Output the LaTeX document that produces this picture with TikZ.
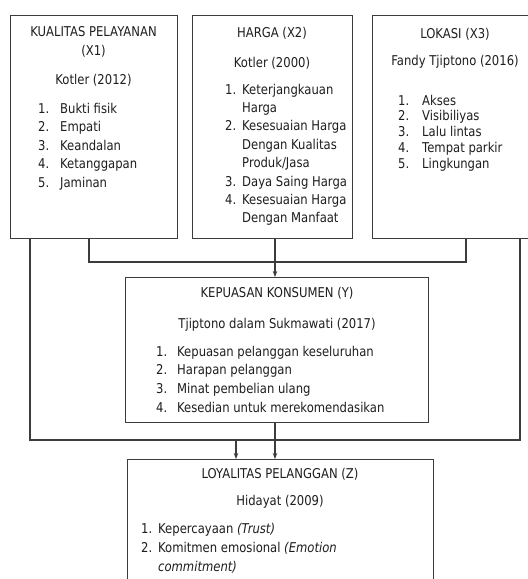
\documentclass[tikz,border=0pt]{standalone}
\usepackage{fontspec}
\setmainfont{DejaVu Sans}[FakeStretch=0.86]
\usetikzlibrary{arrows.meta}
\definecolor{ln}{HTML}{3C3C3C}
\definecolor{tx}{HTML}{1E1E1E}
\begin{document}
\begin{tikzpicture}[x=1pt,y=-1pt,
  box/.style={draw=ln, line width=1.2pt, anchor=north west, inner sep=0pt},
  txt/.style={inner sep=0pt, text=tx, anchor=base, font=\fontsize{13.5}{18.4}\selectfont},
  lst/.style={txt, anchor=base west},
  conn/.style={draw=ln, line width=1.2pt},
  arr/.style={conn, -{Stealth[length=6pt,width=4.5pt]}}]
\useasboundingbox (0,0) rectangle (528,579);
\clip (0,0) rectangle (528,579);
\fill[white] (0,0) rectangle (528,579);
% boxes
\node[box, minimum width=167pt, minimum height=223pt] (x1) at (10,15) {};
\node[box, minimum width=160pt, minimum height=223pt] (x2) at (192,15) {};
\node[box, minimum width=167pt, minimum height=223pt] (x3) at (372,15) {};
\node[box, minimum width=303pt, minimum height=145pt] (y) at (125,277) {};
\node[box, minimum width=306pt, minimum height=160pt] (z) at (127,459) {};
% X1 text
\node[txt] (x1a) at (93.5,36) {KUALITAS PELAYANAN};
\node[txt] (x1b) at (93.5,55) {(X1)};
\node[txt] (x1c) at (93.5,84) {Kotler (2012)};
\node[lst] (x1l) at (38,113) {\fontsize{13.5}{18.5}\selectfont\begin{tabular}[t]{@{}l@{}l@{}}
\makebox[22pt][l]{1.} & Bukti fisik\\
\makebox[22pt][l]{2.} & Empati\\
\makebox[22pt][l]{3.} & Keandalan\\
\makebox[22pt][l]{4.} & Ketanggapan\\
\makebox[22pt][l]{5.} & Jaminan
\end{tabular}};
% X2 text
\node[txt] (x2a) at (272,37) {HARGA (X2)};
\node[txt] (x2c) at (272,67) {Kotler (2000)};
\node[lst] (x2l) at (225,94) {\begin{tabular}[t]{@{}l@{}l@{}}
\makebox[17pt][l]{1.} & Keterjangkauan\\
 & Harga\\
\makebox[17pt][l]{2.} & Kesesuaian Harga\\
 & Dengan Kualitas\\
 & Produk/Jasa\\
\makebox[17pt][l]{3.} & Daya Saing Harga\\
\makebox[17pt][l]{4.} & Kesesuaian Harga\\
 & Dengan Manfaat
\end{tabular}};
% X3 text
\node[txt] (x3a) at (455,38) {LOKASI (X3)};
\node[txt] (x3c) at (455,65) {Fandy Tjiptono (2016)};
\node[lst] (x3l) at (398,105) {\fontsize{13.5}{15.8}\selectfont\begin{tabular}[t]{@{}l@{}l@{}}
\makebox[24pt][l]{1.} & Akses\\
\makebox[24pt][l]{2.} & Visibiliyas\\
\makebox[24pt][l]{3.} & Lalu lintas\\
\makebox[24pt][l]{4.} & Tempat parkir\\
\makebox[24pt][l]{5.} & Lingkungan
\end{tabular}};
% Y text
\node[txt] (ya) at (277,297) {KEPUASAN KONSUMEN (Y)};
\node[txt] (yc) at (277,328) {Tjiptono dalam Sukmawati (2017)};
\node[lst] (yl) at (156,356) {\fontsize{13.5}{18.7}\selectfont\begin{tabular}[t]{@{}l@{}l@{}}
\makebox[21pt][l]{1.} & Kepuasan pelanggan keseluruhan\\
\makebox[21pt][l]{2.} & Harapan pelanggan\\
\makebox[21pt][l]{3.} & Minat pembelian ulang\\
\makebox[21pt][l]{4.} & Kesedian untuk merekomendasikan
\end{tabular}};
% Z text
\node[txt] (za) at (280,478) {LOYALITAS PELANGGAN (Z)};
\node[txt] (zc) at (280,505) {Hidayat (2009)};
\node[lst] (zl) at (141,533) {\fontsize{13.5}{19}\selectfont\begin{tabular}[t]{@{}l@{}l@{}}
\makebox[17pt][l]{1.} & Kepercayaan \textit{(Trust)}\\
\makebox[17pt][l]{2.} & Komitmen emosional \textit{(Emotion}\\
 & \textit{commitment)}
\end{tabular}};
% connectors
\coordinate (c1) at (30,440);
\coordinate (c2) at (520,440);
\draw[conn] (x1.south -| c1) -- (c1) -- (c2) -- (x3.south -| c2);
\coordinate (d1) at (89,262);
\coordinate (d2) at (466,262);
\draw[conn] (x1.south -| d1) -- (d1) -- (d2) -- (x3.south -| d2);
\coordinate (m) at (275,0);
\draw[arr] (x2.south -| m) -- (y.north -| m);
\draw[arr] (y.south -| m) -- (z.north -| m);
\coordinate (e) at (236,440);
\draw[arr] (e) -- (z.north -| e);
\end{tikzpicture}
\end{document}
